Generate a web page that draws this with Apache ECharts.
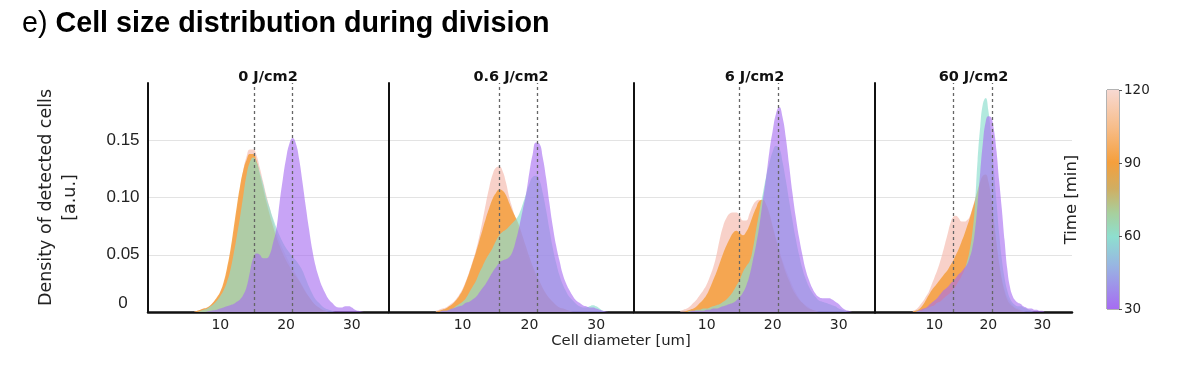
<!DOCTYPE html>
<html><head><meta charset="utf-8">
<script src="https://cdn.jsdelivr.net/npm/echarts@6/dist/echarts.min.js"></script>
<style>html,body{margin:0;padding:0;background:#fff}#chart{width:1200px;height:370px}</style>
</head><body><div id="chart"></div>
<script>
// ---------- data ----------
const diameters = [6, 6.5, 7, 7.5, 8, 8.5, 9, 9.5, 10, 10.5,
  11, 11.5, 12, 12.5, 13, 13.5, 14, 14.5, 15, 15.5,
  16, 16.5, 17, 17.5, 18, 18.5, 19, 19.5, 20, 20.5,
  21, 21.5, 22, 22.5, 23, 23.5, 24, 24.5, 25, 25.5,
  26, 26.5, 27, 27.5, 28, 28.5, 29, 29.5, 30, 30.5,
  31, 31.5, 32];
const doses = ['0 J/cm2', '0.6 J/cm2', '6 J/cm2', '60 J/cm2'];
const times = [30, 60, 90, 120];
const timeTicks = [30, 60, 90, 120];
const yTicks = [0, 0.05, 0.10, 0.15];
const xTicks = [10, 20, 30];
const modeLines = [[15.1, 20.9], [15.5, 21.2], [14.9, 20.8], [13.5, 20.7]];

// dose 0 J/cm2
const d0_t30 = [0,0,0,0,0.0005,0.001,0.0015,0.002,0.003,0.004,
  0.005,0.006,0.007,0.009,0.011,0.015,0.022,0.035,0.047,0.051,
  0.050,0.047,0.047,0.050,0.060,0.072,0.095,0.116,0.134,0.147,
  0.152,0.147,0.133,0.113,0.092,0.072,0.054,0.040,0.030,0.022,
  0.016,0.011,0.008,0.005,0.004,0.004,0.005,0.005,0.004,0.002,
  0.001,0.0005,0];
const d0_t60 = [0,0,0.001,0.002,0.003,0.005,0.007,0.010,0.014,0.019,
  0.026,0.036,0.050,0.066,0.083,0.102,0.120,0.131,0.135,0.131,
  0.122,0.112,0.100,0.091,0.082,0.074,0.067,0.061,0.056,0.052,
  0.048,0.045,0.041,0.036,0.029,0.022,0.016,0.011,0.008,0.005,
  0.003,0.002,0.001,0,0,0,0,0,0,0,
  0,0,0];
const d0_t90 = [0,0.001,0.002,0.003,0.004,0.006,0.009,0.013,0.018,0.026,
  0.038,0.053,0.072,0.092,0.110,0.124,0.133,0.138,0.138,0.132,
  0.120,0.108,0.096,0.085,0.075,0.066,0.058,0.051,0.045,0.040,
  0.035,0.031,0.027,0.022,0.017,0.013,0.009,0.006,0.004,0.002,
  0.001,0,0,0,0,0,0,0,0,0,
  0,0,0];
const d0_t120 = [0,0.001,0.002,0.003,0.004,0.006,0.009,0.012,0.017,0.024,
  0.035,0.050,0.068,0.088,0.107,0.124,0.136,0.142,0.142,0.137,
  0.126,0.114,0.102,0.091,0.080,0.070,0.062,0.055,0.049,0.043,
  0.038,0.033,0.028,0.023,0.018,0.013,0.009,0.006,0.004,0.002,
  0.001,0,0,0,0,0,0,0,0,0,
  0,0,0];

// dose 0.6 J/cm2
const d06_t30 = [0,0,0.001,0.001,0.002,0.003,0.004,0.005,0.006,0.008,
  0.009,0.011,0.013,0.017,0.021,0.025,0.030,0.035,0.039,0.043,
  0.045,0.046,0.048,0.053,0.063,0.075,0.089,0.103,0.122,0.138,
  0.148,0.147,0.135,0.117,0.095,0.075,0.058,0.045,0.033,0.025,
  0.019,0.014,0.010,0.008,0.006,0.005,0.004,0.004,0.003,0.002,
  0.001,0.0005,0];
const d06_t60 = [0,0,0.001,0.001,0.002,0.003,0.005,0.007,0.009,0.012,
  0.017,0.022,0.027,0.034,0.040,0.046,0.051,0.056,0.062,0.067,
  0.070,0.072,0.075,0.078,0.081,0.086,0.094,0.103,0.112,0.118,
  0.119,0.115,0.104,0.089,0.072,0.056,0.043,0.032,0.024,0.018,
  0.013,0.010,0.007,0.005,0.004,0.004,0.005,0.006,0.005,0.003,
  0.001,0,0];
const d06_t90 = [0,0.001,0.002,0.003,0.005,0.007,0.010,0.014,0.019,0.026,
  0.034,0.043,0.052,0.062,0.072,0.082,0.091,0.099,0.104,0.107,
  0.106,0.102,0.095,0.088,0.082,0.075,0.066,0.057,0.048,0.040,
  0.033,0.027,0.021,0.016,0.012,0.009,0.006,0.004,0.003,0.002,
  0.001,0,0,0,0,0,0,0,0,0,
  0,0,0];
const d06_t120 = [0.001,0.002,0.003,0.004,0.006,0.008,0.011,0.015,0.020,0.027,
  0.035,0.044,0.054,0.066,0.080,0.095,0.109,0.120,0.126,0.127,
  0.123,0.113,0.100,0.090,0.080,0.070,0.060,0.051,0.043,0.036,
  0.030,0.024,0.019,0.015,0.011,0.008,0.006,0.004,0.003,0.002,
  0.001,0,0,0,0,0,0,0,0,0,
  0,0,0];

// dose 6 J/cm2
const d6_t30 = [0,0,0,0.0005,0.001,0.001,0.001,0.001,0.002,0.002,
  0.003,0.003,0.004,0.005,0.006,0.007,0.008,0.010,0.013,0.017,
  0.023,0.032,0.045,0.059,0.076,0.097,0.117,0.140,0.158,0.173,
  0.179,0.170,0.152,0.128,0.104,0.083,0.065,0.050,0.037,0.028,
  0.021,0.016,0.013,0.012,0.012,0.012,0.011,0.009,0.007,0.004,
  0.002,0.001,0];
const d6_t60 = [0,0,0,0.001,0.001,0.002,0.002,0.003,0.003,0.004,
  0.005,0.006,0.007,0.009,0.011,0.014,0.018,0.023,0.028,0.035,
  0.040,0.044,0.055,0.072,0.088,0.103,0.118,0.130,0.140,0.145,
  0.143,0.131,0.115,0.097,0.080,0.064,0.050,0.038,0.029,0.022,
  0.017,0.013,0.010,0.009,0.008,0.007,0.006,0.005,0.003,0.002,
  0.001,0,0];
const d6_t90 = [0,0,0.001,0.002,0.003,0.005,0.008,0.011,0.015,0.021,
  0.028,0.035,0.043,0.051,0.058,0.064,0.069,0.071,0.069,0.067,
  0.070,0.076,0.084,0.091,0.097,0.098,0.094,0.086,0.075,0.064,
  0.053,0.043,0.034,0.027,0.020,0.015,0.011,0.008,0.005,0.003,
  0.002,0.001,0,0,0,0,0,0,0,0,
  0,0,0];
const d6_t120 = [0.001,0.002,0.003,0.005,0.008,0.011,0.015,0.019,0.024,0.031,
  0.039,0.050,0.064,0.075,0.082,0.086,0.087,0.087,0.084,0.080,
  0.080,0.086,0.093,0.097,0.098,0.096,0.090,0.082,0.073,0.063,
  0.054,0.045,0.037,0.030,0.023,0.017,0.012,0.008,0.006,0.004,
  0.002,0.001,0,0,0,0,0,0,0,0,
  0,0,0];

// dose 60 J/cm2
const d60_t30 = [0,0,0.001,0.002,0.003,0.004,0.006,0.008,0.010,0.012,
  0.015,0.018,0.020,0.022,0.025,0.027,0.030,0.033,0.035,0.038,
  0.041,0.047,0.055,0.070,0.094,0.122,0.148,0.166,0.171,0.170,
  0.160,0.141,0.115,0.090,0.063,0.038,0.022,0.014,0.010,0.008,
  0.007,0.005,0.004,0.003,0.003,0.002,0.002,0.001,0.001,0,
  0,0,0];
const d60_t60 = [0,0,0.001,0.001,0.002,0.003,0.004,0.005,0.006,0.008,
  0.009,0.011,0.013,0.015,0.017,0.020,0.023,0.027,0.031,0.036,
  0.043,0.053,0.068,0.092,0.132,0.162,0.182,0.187,0.176,0.155,
  0.126,0.097,0.069,0.046,0.030,0.019,0.012,0.008,0.006,0.005,
  0.005,0.004,0.003,0.002,0.001,0,0,0,0,0,
  0,0,0];
const d60_t90 = [0,0.001,0.002,0.004,0.007,0.011,0.015,0.019,0.022,0.025,
  0.028,0.031,0.034,0.037,0.041,0.045,0.050,0.055,0.061,0.067,
  0.074,0.081,0.089,0.097,0.106,0.114,0.119,0.120,0.114,0.100,
  0.080,0.060,0.042,0.028,0.018,0.011,0.007,0.005,0.003,0.002,
  0.001,0,0,0,0,0,0,0,0,0,
  0,0,0];
const d60_t120 = [0.001,0.002,0.004,0.007,0.010,0.014,0.018,0.024,0.030,0.036,
  0.043,0.051,0.060,0.069,0.078,0.083,0.084,0.082,0.079,0.079,
  0.080,0.083,0.090,0.098,0.106,0.112,0.117,0.118,0.113,0.100,
  0.082,0.062,0.044,0.030,0.020,0.013,0.009,0.006,0.004,0.003,
  0.002,0.001,0,0,0,0,0,0,0,0,
  0,0,0];

const densities = [
  {30: d0_t30, 60: d0_t60, 90: d0_t90, 120: d0_t120},
  {30: d06_t30, 60: d06_t60, 90: d06_t90, 120: d06_t120},
  {30: d6_t30, 60: d6_t60, 90: d6_t90, 120: d6_t120},
  {30: d60_t30, 60: d60_t60, 90: d60_t90, 120: d60_t120}
];

// ---------- styling / layout ----------
const timeColor = {30: '#a66cf0', 60: '#8edfcf', 90: '#f59f3c', 120: '#f5bfb4'};
const timeAlpha = {30: 0.62, 60: 0.68, 90: 0.85, 120: 0.72};
const panels = [{left: 148, width: 240}, {left: 389, width: 244}, {left: 634, width: 241}, {left: 875, width: 197}];
const gridTop = 83, gridHeight = 229;
const sansUI = 'DejaVu Sans';
const helv = 'Liberation Sans';

const grids = [], xAxes = [], yAxes = [], series = [];
const titles = [{
  text: '{r|e) }{b|Cell size distribution during division}',
  left: 22, top: 10, padding: 0,
  textStyle: {
    fontWeight: 'normal',
    rich: {
      r: {fontFamily: helv, fontSize: 28.7, fontWeight: 'normal', color: '#000'},
      b: {fontFamily: helv, fontSize: 28.7, fontWeight: 'bold', color: '#000'}
    }
  }
}];

panels.forEach((p, i) => {
  grids.push({left: p.left, width: p.width, top: gridTop, height: gridHeight, containLabel: false});
  xAxes.push({
    type: 'value', gridIndex: i, min: -1, max: 35.5, minInterval: 10, maxInterval: 10,
    axisLine: {show: true, onZero: false, lineStyle: {color: '#111', width: 2.5}},
    axisTick: {show: false},
    splitLine: {show: false},
    axisLabel: {
      fontFamily: sansUI, fontSize: 14, color: '#222', margin: 6,
      formatter: v => (xTicks.indexOf(v) >= 0 ? String(v) : '')
    }
  });
  yAxes.push({
    type: 'value', gridIndex: i, min: 0, max: 0.2, interval: 0.05,
    axisLine: {show: true, onZero: false, lineStyle: {color: '#111', width: 2}},
    axisTick: {show: false},
    splitLine: {show: true, showMinLine: false, showMaxLine: false, lineStyle: {color: '#e3e3e3', width: 1}},
    axisLabel: i === 0 ? {
      show: true, fontFamily: helv, fontSize: 17, color: '#222', margin: 25, align: 'center',
      showMaxLabel: false, verticalAlignMinLabel: 'bottom',
      formatter: v => {
        const k = yTicks.findIndex(t => Math.abs(t - v) < 1e-9);
        if (k < 0) return '';
        return v === 0 ? '0' : v.toFixed(2);
      }
    } : {show: false},
    name: i === 0 ? 'Density of detected cells\n[a.u.]' : '',
    nameLocation: 'middle', nameGap: 66,
    nameTextStyle: {fontFamily: sansUI, fontSize: 17.5, color: '#222', lineHeight: 24}
  });
  titles.push({
    text: doses[i], left: p.left + p.width / 2, top: 70, padding: 0, textAlign: 'center',
    textStyle: {fontFamily: sansUI, fontSize: 14.5, fontWeight: 'bold', color: '#111'}
  });
  [120, 90, 60, 30].forEach(t => {
    const s = {
      type: 'line', name: t + ' min', xAxisIndex: i, yAxisIndex: i,
      data: diameters.map((x, j) => [x, densities[i][t][j]]),
      smooth: 0.5, showSymbol: false, symbol: 'none',
      lineStyle: {width: 0, opacity: 0},
      areaStyle: {color: timeColor[t], opacity: timeAlpha[t], origin: 'start'},
      silent: true
    };
    if (t === 30) {
      s.markLine = {
        silent: true, symbol: ['none', 'none'], label: {show: false},
        lineStyle: {color: '#666', type: [3, 3], width: 1.3},
        data: modeLines[i].map(v => ({xAxis: v}))
      };
    }
    series.push(s);
  });
});

// x axis title across panels
titles.push({
  text: 'Cell diameter [um]', left: 621, top: 334, padding: 0, textAlign: 'center',
  textStyle: {fontFamily: sansUI, fontSize: 14.8, fontWeight: 'normal', color: '#222'}
});

// colour bar (time legend)
const cbIndex = panels.length;
grids.push({left: 1107, width: 12, top: 90, height: 219, show: true, borderColor: '#666', borderWidth: 1, backgroundColor: 'transparent'});
xAxes.push({type: 'category', gridIndex: cbIndex, data: ['t'], show: false});
yAxes.push({
  type: 'value', gridIndex: cbIndex, position: 'right',
  min: timeTicks[0], max: timeTicks[timeTicks.length - 1], interval: timeTicks[1] - timeTicks[0],
  axisLine: {show: false}, splitLine: {show: false},
  axisTick: {show: true, length: 3, lineStyle: {color: '#555'}},
  axisLabel: {fontFamily: sansUI, fontSize: 13.5, color: '#222', margin: 5}
});
yAxes.push({
  type: 'value', gridIndex: cbIndex, position: 'left',
  min: timeTicks[0], max: timeTicks[timeTicks.length - 1],
  axisLine: {show: false}, splitLine: {show: false}, axisTick: {show: false}, axisLabel: {show: false},
  name: 'Time [min]', nameLocation: 'middle', nameGap: 27,
  nameTextStyle: {fontFamily: sansUI, fontSize: 16.5, color: '#222'}
});
series.push({
  type: 'bar', xAxisIndex: cbIndex, yAxisIndex: yAxes.length - 2, stack: 'cb', silent: true,
  data: [timeTicks[0]], barWidth: '100%', itemStyle: {color: 'rgba(0,0,0,0)'}
});
series.push({
  type: 'bar', xAxisIndex: cbIndex, yAxisIndex: yAxes.length - 2, stack: 'cb', silent: true,
  data: [timeTicks[timeTicks.length - 1] - timeTicks[0]], barWidth: '100%',
  itemStyle: {
    color: {
      type: 'linear', x: 0, y: 0, x2: 0, y2: 1,
      colorStops: [
        {offset: 0, color: '#f8d9d2'},
        {offset: 0.17, color: '#f7bd8a'},
        {offset: 0.33, color: '#f59f3c'},
        {offset: 0.45, color: '#d0ae62'},
        {offset: 0.56, color: '#a8cf9c'},
        {offset: 0.67, color: '#8edfcf'},
        {offset: 0.8, color: '#98b6e2'},
        {offset: 1, color: '#a66cf2'}
      ]
    }
  }
});

const chart = echarts.init(document.getElementById('chart'), null, {renderer: 'canvas'});
chart.setOption({
  animation: false,
  backgroundColor: '#fff',
  title: titles,
  grid: grids,
  xAxis: xAxes,
  yAxis: yAxes,
  series: series
});
</script>
</body></html>
